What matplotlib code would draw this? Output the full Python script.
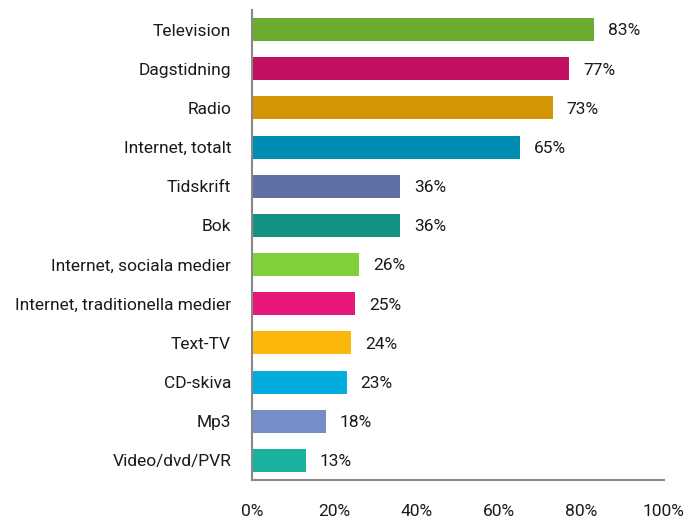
import matplotlib.pyplot as plt
import matplotlib.ticker as mticker

plt.rcParams['font.family'] = ['Roboto', 'DejaVu Sans']

categories = ['Television', 'Dagstidning', 'Radio', 'Internet, totalt', 'Tidskrift', 'Bok',
              'Internet, sociala medier', 'Internet, traditionella medier', 'Text-TV',
              'CD-skiva', 'Mp3', 'Video/dvd/PVR']
values = [83, 77, 73, 65, 36, 36, 26, 25, 24, 23, 18, 13]
colors = ['#6aac2f', '#c21160', '#d29606', '#008db4', '#5e70a4', '#149384',
          '#80d03c', '#e8167a', '#fcb70d', '#00addc', '#768ec8', '#1bb29d']

fig = plt.figure(figsize=(6.87, 5.18), dpi=100)
ax = fig.add_axes([252 / 687, 1 - 480 / 518, 412 / 687, 470 / 518])

pos = list(range(len(categories)))
ax.barh(pos, values, height=0.59, color=colors)
for p, v in zip(pos, values):
    ax.annotate(f'{v}%', (v, p), xytext=(10, -1), textcoords='offset points',
                va='center', ha='left', fontsize=12.5, color='#1a1a1a')

ax.set_ylim(len(categories) - 0.5, -0.5)
ax.set_xlim(0, 100)
ax.set_yticks(pos)
ax.set_yticklabels(categories, fontsize=12.5, color='#1a1a1a')
ax.set_xticks(range(0, 101, 20))
ax.xaxis.set_major_formatter(mticker.FuncFormatter(lambda x, _: f'{int(x)}%'))
ax.tick_params(axis='x', length=0, pad=17, labelsize=12.5, labelcolor='#1a1a1a')
ax.tick_params(axis='y', length=0, pad=15)

for s in ['top', 'right']:
    ax.spines[s].set_visible(False)
for s in ['left', 'bottom']:
    ax.spines[s].set_color('#888888')
    ax.spines[s].set_linewidth(1.5)

fig.savefig('out.png', dpi=100)
